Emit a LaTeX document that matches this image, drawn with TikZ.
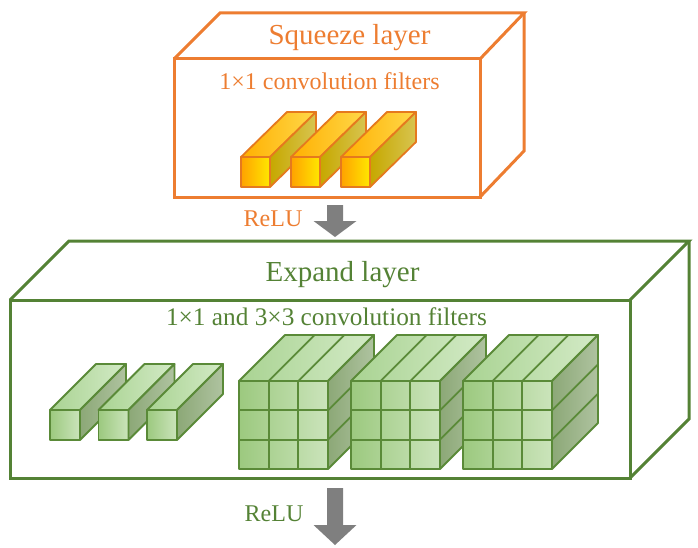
\documentclass[tikz,border=0pt]{standalone}
\usepackage{fontspec}
\setmainfont{Liberation Serif}
\usetikzlibrary{calc}

\definecolor{sqzorange}{HTML}{ED7D31}
\definecolor{expgreen}{HTML}{548235}
\definecolor{arrowgray}{HTML}{7F7F7F}
% orange filter colours
\definecolor{ofrontL}{HTML}{FFA200}
\definecolor{ofrontR}{HTML}{FFE800}
\definecolor{otopL}{HTML}{FFB000}
\definecolor{otopR}{HTML}{FFD84A}
\definecolor{osideL}{HTML}{C6A800}
\definecolor{osideR}{HTML}{D8C450}
\definecolor{oline}{HTML}{E5791E}
% green filter colours
\definecolor{gfrontL}{HTML}{9CC97F}
\definecolor{gfrontR}{HTML}{CBE4BB}
\definecolor{gtopL}{HTML}{A9D392}
\definecolor{gtopR}{HTML}{D3EAC6}
\definecolor{gsideL}{HTML}{8CA877}
\definecolor{gsideR}{HTML}{AFC3A0}
\definecolor{gline}{HTML}{5A8A38}

\begin{document}
\begin{tikzpicture}[
    x=1pt, y=-1pt,
    sqzbox/.style={draw=sqzorange, line width=3pt, line join=miter},
    expbox/.style={draw=expgreen, line width=3pt, line join=miter},
    layertitle/.style={font=\fontsize{29}{34}\selectfont, anchor=base},
    filtertext/.style={font=\fontsize{24}{28}\selectfont, anchor=base},
    obar/.style={draw=oline, line width=1.8pt, line join=round},
    gcube/.style={draw=gline, line width=1.8pt, line join=round},
    reluarrow/.style={fill=arrowgray},
]
\useasboundingbox (0,0) rectangle (698,548);

% ---- Squeeze layer box ----
\draw[sqzbox] (174,59) rectangle (480,197);
\draw[sqzbox] (174,59) -- (220,13) -- (524,13) -- (480,59);
\draw[sqzbox] (524,13) -- (524,151) -- (480,197);

\node[layertitle, text=sqzorange] (sqztitle) at (349.5,45) {Squeeze layer};
\node[filtertext, text=sqzorange] (sqzfilters) at (329.5,90) {1×1 convolution filters};

% 1x1 filters (orange)
\foreach \x in {241,291,341} {
  \draw[obar, left color=ofrontL, right color=ofrontR] (\x,157) rectangle ++(29,30);
  \draw[obar, left color=otopL, right color=otopR] (\x,157) -- ++(46,-45) -- ++(29,0) -- ++(-46,45) -- cycle;
  \draw[obar, left color=osideL, right color=osideR] ({\x+29},157) -- ++(46,-45) -- ++(0,30) -- ++(-46,45) -- cycle;
}

% ---- ReLU after squeeze ----
\node[filtertext, text=sqzorange] (relu1) at (273,226) {ReLU};
\coordinate (arr1) at (335,205);
\fill[reluarrow] (arr1) ++(-8,0) -- ++(16,0) -- ++(0,16) -- ++(13.5,0)
    -- ++(-21.5,16) -- ++(-21.5,-16) -- ++(13.5,0) -- cycle;

% ---- Expand layer box ----
\draw[expbox] (10,300) rectangle (630,478);
\draw[expbox] (10,300) -- (69,241) -- (689,241) -- (630,300);
\draw[expbox] (689,241) -- (689,419) -- (630,478);

\node[layertitle, text=expgreen] (exptitle) at (342.5,281) {Expand layer};
\node[filtertext, text=expgreen, font=\fontsize{25.3}{29}\selectfont] (expfilters) at (326.5,325) {1×1 and 3×3 convolution filters};

% 1x1 filters (green)
\foreach \x in {50,98.5,147} {
  \draw[gcube, left color=gfrontL, right color=gfrontR] (\x,410) rectangle ++(30,30);
  \draw[gcube, left color=gtopL, right color=gtopR] (\x,410) -- ++(46,-46) -- ++(30,0) -- ++(-46,46) -- cycle;
  \draw[gcube, left color=gsideL, right color=gsideR] ({\x+30},410) -- ++(46,-46) -- ++(0,30) -- ++(-46,46) -- cycle;
}

% 3x3 filters (green)
\foreach \x in {239,351,463} {
  \draw[gcube, left color=gfrontL, right color=gfrontR] (\x,381) rectangle ++(89,88);
  \draw[gcube, left color=gtopL, right color=gtopR] (\x,381) -- ++(46,-46) -- ++(89,0) -- ++(-46,46) -- cycle;
  \draw[gcube, left color=gsideL, right color=gsideR] ({\x+89},381) -- ++(46,-46) -- ++(0,88) -- ++(-46,46) -- cycle;
  \foreach \i in {1,2} {
    \draw[gcube] ({\x+\i*89/3},381) -- ++(0,88);
    \draw[gcube] (\x,{381+\i*88/3}) -- ++(89,0);
    \draw[gcube] ({\x+\i*89/3},381) -- ++(46,-46);
    \draw[gcube] ({\x+89},{381+\i*88/3}) -- ++(46,-46);
  }
}

% ---- ReLU after expand ----
\node[filtertext, text=expgreen] (relu2) at (274,521) {ReLU};
\coordinate (arr2) at (335,488);
\fill[reluarrow] (arr2) ++(-8,0) -- ++(16,0) -- ++(0,37) -- ++(13.5,0)
    -- ++(-21.5,20) -- ++(-21.5,-20) -- ++(13.5,0) -- cycle;

\end{tikzpicture}
\end{document}
